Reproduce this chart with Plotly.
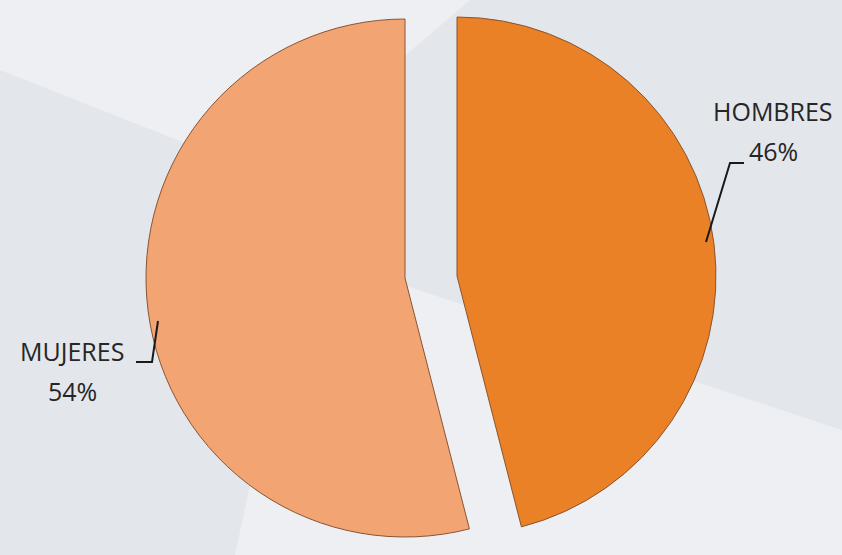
import plotly.graph_objects as go

W, H = 842, 555

labels = ["HOMBRES", "MUJERES"]
values = [46, 54]
colors = ["#EB8127", "#F2A573"]

# label anchor points (px) and leader lines, one per slice
label_pos = {"HOMBRES": (773, 111), "MUJERES": (72, 351)}
leader = {
    "HOMBRES": [(706, 242), (730, 163), (744, 163)],
    "MUJERES": [(158, 321), (152, 362), (136, 362)],
}
# pie centre of each exploded slice (px)
centres = {"HOMBRES": (457, 276), "MUJERES": (405, 278)}
R = 259


def px(x, y):
    return x / W, 1 - y / H


fig = go.Figure()

for i, lab in enumerate(labels):
    cx, cy = centres[lab]
    slice_colors = ["rgba(0,0,0,0)"] * len(labels)
    slice_colors[i] = colors[i]
    widths = [0] * len(labels)
    widths[i] = 1
    fig.add_trace(go.Pie(
        labels=labels,
        values=values,
        sort=False,
        direction="clockwise",
        rotation=0,
        textinfo="none",
        hoverinfo="label+percent",
        showlegend=False,
        marker=dict(colors=slice_colors, line=dict(color="#8A5433", width=widths)),
        domain=dict(
            x=[(cx - R - 20) / W, (cx + R + 20) / W],
            y=[1 - (cy + R) / H, 1 - (cy - R) / H],
        ),
    ))

total = sum(values)
annotations = []
shapes = []

# background bands
tl = [px(0, 0), px(470, 0), px(400, 60), px(400, 228), px(0, 70)]
br = [px(300, 251), px(842, 430), px(842, 555), px(235, 555)]
for poly in (tl, br):
    path = "M " + " L ".join(f"{x},{y}" for x, y in poly) + " Z"
    shapes.append(dict(type="path", path=path, xref="paper", yref="paper",
                       fillcolor="#EEEFF2", line=dict(width=0), layer="below"))

for lab, v in zip(labels, values):
    x, y = label_pos[lab]
    fx, fy = px(x, y)
    fx2, fy2 = px(x, y + 40)
    annotations.append(dict(x=fx, y=fy, xref="paper", yref="paper", text=lab,
                            showarrow=False, xanchor="center", yanchor="middle"))
    annotations.append(dict(x=fx2, y=fy2, xref="paper", yref="paper",
                            text=f"{round(100 * v / total)}%",
                            showarrow=False, xanchor="center", yanchor="middle"))
    pts = [px(a, b) for a, b in leader[lab]]
    path = "M " + " L ".join(f"{a},{b}" for a, b in pts)
    shapes.append(dict(type="path", path=path, xref="paper", yref="paper",
                       line=dict(color="#1A1A1A", width=2)))

fig.update_layout(
    width=W,
    height=H,
    margin=dict(l=0, r=0, t=0, b=0),
    paper_bgcolor="#E3E6EB",
    plot_bgcolor="#E3E6EB",
    font=dict(family="Open Sans", size=25, color="#262626"),
    annotations=annotations,
    shapes=shapes,
)

fig.write_html("out.html", config={"displayModeBar": False},
               post_script="document.body.style.margin='0';")
